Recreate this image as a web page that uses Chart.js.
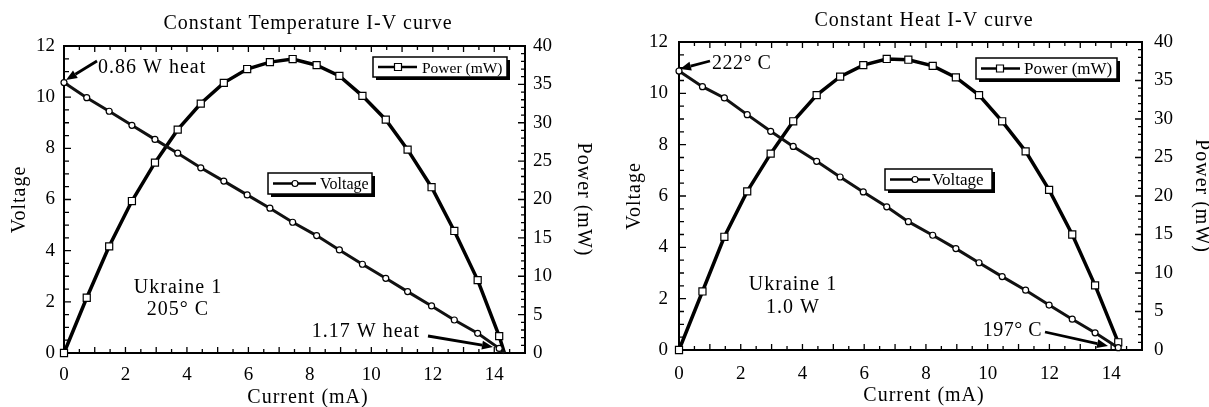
<!DOCTYPE html>
<html>
<head>
<meta charset="utf-8">
<script src="https://cdn.jsdelivr.net/npm/chart.js@4.4.0/dist/chart.umd.min.js"></script>
<style>
  html, body { margin: 0; padding: 0; background: #fff; }
  body { width: 1209px; height: 407px; position: relative; overflow: hidden; }
  canvas { position: absolute; top: 0; }
  #left { left: 0; }
  #right { left: 604px; }
</style>
</head>
<body>
<canvas id="left" width="604" height="407"></canvas>
<canvas id="right" width="605" height="407"></canvas>
<script>
// constant temperature run (205 C)
const ctCurrent = [0, 0.74, 1.47, 2.21, 2.96, 3.70, 4.45, 5.20, 5.96, 6.70, 7.44, 8.22, 8.96, 9.71, 10.47, 11.18, 11.96, 12.70, 13.46, 14.16, 14.33]
const ctVoltage = [10.57, 9.98, 9.45, 8.90, 8.35, 7.81, 7.24, 6.72, 6.18, 5.66, 5.11, 4.59, 4.03, 3.47, 2.92, 2.40, 1.84, 1.29, 0.77, 0.18, 0]
const ctPower = [0, 7.2, 13.9, 19.8, 24.8, 29.1, 32.5, 35.2, 37.0, 37.9, 38.3, 37.5, 36.1, 33.5, 30.4, 26.5, 21.6, 15.9, 9.5, 2.2, 0]

// constant heat run (1.0 W)
const chCurrent = [0, 0.76, 1.47, 2.21, 2.97, 3.70, 4.46, 5.22, 5.97, 6.73, 7.43, 8.22, 8.97, 9.72, 10.47, 11.23, 11.99, 12.74, 13.48, 14.23]
const chVoltage = [10.87, 10.26, 9.82, 9.17, 8.52, 7.93, 7.35, 6.74, 6.16, 5.58, 5.00, 4.47, 3.95, 3.40, 2.86, 2.33, 1.75, 1.20, 0.67, 0.09]
const chPower = [0, 7.6, 14.7, 20.6, 25.5, 29.7, 33.1, 35.5, 37.0, 37.8, 37.7, 36.9, 35.4, 33.1, 29.7, 25.8, 20.8, 15.0, 8.4, 1.0]

const xTicks = [0, 2, 4, 6, 8, 10, 12, 14]
const voltTicks = [0, 2, 4, 6, 8, 10, 12]
const powerTicks = [0, 5, 10, 15, 20, 25, 30, 35, 40]

const FONT = '"Liberation Serif", "Times New Roman", serif'

function text(ctx, str, x, y, size, align, rot, spacing) {
  ctx.save()
  ctx.font = size + 'px ' + FONT
  ctx.letterSpacing = (spacing === undefined ? 1 : spacing) + 'px'
  ctx.fillStyle = '#000'
  ctx.textAlign = align || 'left'
  ctx.textBaseline = rot ? 'middle' : 'alphabetic'
  ctx.translate(x, y)
  if (rot) ctx.rotate(rot)
  ctx.fillText(str, 0, 0)
  ctx.restore()
}

function arrow(ctx, x1, y1, x2, y2) {
  const a = Math.atan2(y2 - y1, x2 - x1)
  const len = 11, hw = 4.5
  const bx = x2 - len * Math.cos(a), by = y2 - len * Math.sin(a)
  ctx.save()
  ctx.strokeStyle = '#000'
  ctx.fillStyle = '#000'
  ctx.lineWidth = 2.8
  ctx.beginPath()
  ctx.moveTo(x1, y1)
  ctx.lineTo(bx, by)
  ctx.stroke()
  ctx.beginPath()
  ctx.moveTo(x2, y2)
  ctx.lineTo(bx + hw * Math.sin(a), by - hw * Math.cos(a))
  ctx.lineTo(bx - hw * Math.sin(a), by + hw * Math.cos(a))
  ctx.closePath()
  ctx.fill()
  ctx.restore()
}

function legendBox(ctx, b) {
  ctx.save()
  ctx.fillStyle = '#000'
  ctx.fillRect(b.x + 3, b.y + 3, b.w, b.h)
  ctx.fillStyle = '#fff'
  ctx.fillRect(b.x, b.y, b.w, b.h)
  ctx.strokeStyle = '#000'
  ctx.lineWidth = 1.5
  ctx.strokeRect(b.x, b.y, b.w, b.h)
  const my = b.y + b.h / 2
  ctx.lineWidth = 2.5
  ctx.beginPath()
  ctx.moveTo(b.x + 5, my)
  ctx.lineTo(b.x + b.lineEnd, my)
  ctx.stroke()
  ctx.lineWidth = 1.2
  ctx.fillStyle = '#fff'
  ctx.beginPath()
  if (b.square) ctx.rect(b.x + b.mark - 3.5, my - 3.5, 7, 7)
  else ctx.arc(b.x + b.mark, my, 3, 0, Math.PI * 2)
  ctx.fill()
  ctx.stroke()
  ctx.restore()
  text(ctx, b.label, b.x + b.textX, my + 5.5, b.size, 'left', 0, 0)
}

function decor(conf) {
  return {
    id: 'decor',
    beforeDatasetsDraw(chart) {
      const {ctx, chartArea: a, scales} = chart
      ctx.save()
      ctx.strokeStyle = '#000'
      ctx.lineWidth = 2
      ctx.strokeRect(a.left, a.top, a.right - a.left, a.bottom - a.top)
      ctx.lineWidth = 1.3
      ctx.beginPath()
      for (let v = 0; v <= 15; v += 0.5) {
        const px = scales.x.getPixelForValue(v)
        const len = v % 1 === 0 ? 6 : 4
        ctx.moveTo(px, a.bottom); ctx.lineTo(px, a.bottom - len)
        ctx.moveTo(px, a.top); ctx.lineTo(px, a.top + len)
      }
      for (let v = 0; v <= 12; v += 0.5) {
        const py = scales.y.getPixelForValue(v)
        ctx.moveTo(a.left, py); ctx.lineTo(a.left + (v % 2 === 0 ? 7 : 5), py)
      }
      for (let v = 0; v <= 40; v += 1) {
        const py = scales.y2.getPixelForValue(v)
        ctx.moveTo(a.right, py); ctx.lineTo(a.right - (v % 5 === 0 ? 7 : 4), py)
      }
      ctx.stroke()
      ctx.restore()
    },
    afterDraw(chart) {
      const ctx = chart.ctx
      const a = chart.chartArea
      const midY = (a.top + a.bottom) / 2
      text(ctx, conf.title, conf.titleX, conf.titleY, 20, 'center')
      text(ctx, 'Current (mA)', conf.titleX, conf.xTitleY, 20, 'center')
      text(ctx, 'Voltage', conf.yTitleX, midY, 20, 'center', -Math.PI / 2)
      text(ctx, 'Power (mW)', conf.y2TitleX, midY, 20, 'center', Math.PI / 2)
      conf.legends.forEach(b => legendBox(ctx, b))
      conf.notes.forEach(n => text(ctx, n[0], n[1], n[2], 20, n[3], 0, n[4]))
      conf.arrows.forEach(r => arrow(ctx, r[0], r[1], r[2], r[3]))
    }
  }
}

function setTicks(list) {
  return s => { s.ticks = list.map(v => ({value: v})) }
}

function makeChart(id, current, voltage, power, conf) {
  const n = current.length
  const radius = r => c => (conf.hideLast && c.dataIndex === n - 1) ? 0 : r
  const tickFont = {family: FONT, size: 19}
  new Chart(document.getElementById(id), {
    type: 'line',
    data: {
      datasets: [
        {
          label: 'Voltage',
          data: current.map((x, i) => ({x: x, y: voltage[i]})),
          yAxisID: 'y',
          borderColor: '#111',
          borderWidth: 3,
          pointStyle: 'circle',
          pointRadius: radius(3),
          pointBackgroundColor: '#fff',
          pointBorderColor: '#000',
          pointBorderWidth: 1.2,
          tension: 0,
          clip: false
        },
        {
          label: 'Power (mW)',
          data: current.map((x, i) => ({x: x, y: power[i]})),
          yAxisID: 'y2',
          borderColor: '#000',
          borderWidth: 3.5,
          pointStyle: 'rect',
          pointRadius: radius(5),
          pointBackgroundColor: '#fff',
          pointBorderColor: '#000',
          pointBorderWidth: 1.2,
          tension: 0,
          clip: false
        }
      ]
    },
    options: {
      responsive: false,
      animation: false,
      layout: {padding: {top: conf.padTop, left: 0, right: 0, bottom: 0}},
      plugins: {
        legend: {display: false},
        tooltip: {enabled: false}
      },
      scales: {
        x: {
          type: 'linear',
          min: 0,
          max: 15,
          grid: {display: false, drawTicks: false},
          border: {display: false},
          ticks: {font: tickFont, color: '#000', padding: conf.xPad, maxRotation: 0},
          afterBuildTicks: setTicks(xTicks),
          afterFit: s => { s.height = conf.xH }
        },
        y: {
          position: 'left',
          min: 0,
          max: 12,
          grid: {display: false, drawTicks: false},
          border: {display: false},
          ticks: {font: tickFont, color: '#000', padding: conf.yPad},
          afterBuildTicks: setTicks(voltTicks),
          afterFit: s => { s.width = conf.yW }
        },
        y2: {
          position: 'right',
          min: 0,
          max: 40,
          grid: {display: false, drawTicks: false},
          border: {display: false},
          ticks: {font: tickFont, color: '#000', padding: conf.y2Pad},
          afterBuildTicks: setTicks(powerTicks),
          afterFit: s => { s.width = conf.y2W }
        }
      }
    },
    plugins: [decor(conf)]
  })
}

makeChart('left', ctCurrent, ctVoltage, ctPower, {
  hideLast: true,
  padTop: 46, yW: 64, y2W: 79, xH: 54,
  xPad: 11, yPad: 9, y2Pad: 8,
  title: 'Constant Temperature I-V curve', titleX: 308, titleY: 29, xTitleY: 403,
  yTitleX: 20, y2TitleX: 583,
  legends: [
    {x: 373, y: 57, w: 134, h: 20, lineEnd: 44, mark: 25, square: true, textX: 49, label: 'Power (mW)', size: 15.5},
    {x: 268, y: 173, w: 104, h: 21, lineEnd: 48, mark: 27, square: false, textX: 52, label: 'Voltage', size: 16}
  ],
  notes: [
    ['0.86 W heat', 98, 73, 'left', 1],
    ['Ukraine 1', 178, 293, 'center', 1],
    ['205° C', 178, 315, 'center', 1],
    ['1.17 W heat', 420, 337, 'right', 1]
  ],
  arrows: [[428, 336, 493, 347], [97, 61, 66, 80]]
})

makeChart('right', chCurrent, chVoltage, chPower, {
  hideLast: false,
  padTop: 42, yW: 75, y2W: 67, xH: 57,
  xPad: 13, yPad: 11, y2Pad: 12,
  title: 'Constant Heat I-V curve', titleX: 320, titleY: 26, xTitleY: 401,
  yTitleX: 31, y2TitleX: 597,
  legends: [
    {x: 372, y: 58, w: 141, h: 21, lineEnd: 44, mark: 24, square: true, textX: 48, label: 'Power (mW)', size: 17},
    {x: 281, y: 169, w: 107, h: 21, lineEnd: 45, mark: 30, square: false, textX: 47, label: 'Voltage', size: 17}
  ],
  notes: [
    ['222° C', 108, 69, 'left', 0.5],
    ['Ukraine 1', 189, 290, 'center', 1],
    ['1.0 W', 189, 313, 'center', 1],
    ['197° C', 438, 336, 'right', 0.5]
  ],
  arrows: [[106, 61, 76, 69], [441, 332, 504, 346]]
})
</script>
</body>
</html>
